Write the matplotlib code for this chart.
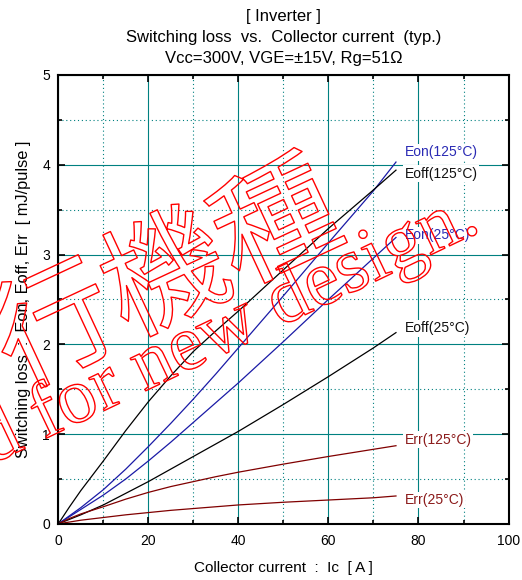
import matplotlib
matplotlib.use("Agg")
import matplotlib.pyplot as plt
from matplotlib.ticker import MultipleLocator
import matplotlib.patheffects as pe

# ---------------- data ----------------
ic = [0, 2.5, 5, 10, 15, 20, 25, 30, 35, 40, 50, 60, 70, 75]
eon_125 = [0, 0.09, 0.18, 0.38, 0.61, 0.86, 1.12, 1.39, 1.67, 1.96, 2.54, 3.13, 3.71, 4.03]
eoff_125 = [0, 0.19, 0.37, 0.70, 1.04, 1.36, 1.65, 1.92, 2.15, 2.37, 2.83, 3.29, 3.72, 3.94]
eon_25 = [0, 0.08, 0.16, 0.32, 0.50, 0.70, 0.91, 1.13, 1.35, 1.57, 2.03, 2.50, 2.96, 3.19]
eoff_25 = [0, 0.05, 0.10, 0.21, 0.34, 0.47, 0.61, 0.75, 0.89, 1.03, 1.33, 1.64, 1.96, 2.13]
err_125 = [0, 0.06, 0.11, 0.19, 0.275, 0.35, 0.415, 0.47, 0.525, 0.575, 0.665, 0.75, 0.83, 0.87]
err_25 = [0, 0.02, 0.04, 0.07, 0.10, 0.125, 0.15, 0.17, 0.19, 0.21, 0.24, 0.265, 0.29, 0.31]

series_names = ["Eon(125°C)", "Eoff(125°C)", "Eon(25°C)", "Eoff(25°C)", "Err(125°C)", "Err(25°C)"]
label_y = [4.14, 3.90, 3.215, 2.18, 0.935, 0.266]
label_x = 76.9

title_lines = ["[ Inverter ]",
               "Switching loss  vs.  Collector current  (typ.)",
               "Vcc=300V, VGE=\u00b115V, Rg=51\u03a9"]
xlabel = "Collector current  :  Ic  [ A ]"
ylabel = "Switching loss  :  Eon, Eoff, Err  [ mJ/pulse ]"
x_ticks = [0, 20, 40, 60, 80, 100]
y_ticks = [0, 1, 2, 3, 4, 5]

wm_jp = "移行機種"
wm_en = "Not recommended for new design."

# ---------------- style ----------------
plt.rcParams['font.family'] = ['Liberation Sans', 'DejaVu Sans']
BLUE = '#1a1aa6'
DRED = '#800000'
TEAL = '#008080'

fig = plt.figure(figsize=(5.22, 5.80), dpi=100)
ax = fig.add_axes([0.1117, 0.0969, 0.8625, 0.7738])

series = [eon_125, eoff_125, eon_25, eoff_25, err_125, err_25]
colors = [BLUE, 'black', BLUE, 'black', DRED, DRED]
lcolors = ['#2a2ab4', '#111111', '#2a2ab4', '#111111', '#8b1a1a', '#8b1a1a']
for vals, c in zip(series, colors):
    ax.plot(ic, vals, color=c, lw=0.9, zorder=3)

for name, ly, lc in zip(series_names, label_y, lcolors):
    ax.text(label_x, ly, name, color=lc, fontsize=10, ha='left', va='center',
            zorder=4, bbox=dict(facecolor='white', edgecolor='none', pad=1.0))

ax.set_xlim(0, 100)
ax.set_ylim(0, 5)
ax.set_xticks(x_ticks)
ax.set_yticks(y_ticks)
ax.xaxis.set_minor_locator(MultipleLocator(10))
ax.yaxis.set_minor_locator(MultipleLocator(0.5))
ax.grid(which='major', color=TEAL, lw=0.8, ls='-', zorder=1)
ax.grid(which='minor', color=TEAL, lw=0.8, ls=(0, (1, 2.5)), zorder=1)
ax.set_axisbelow(True)
ax.tick_params(which='both', direction='in', top=True, right=True, width=1.2, labelsize=10)
ax.tick_params(which='major', length=5)
ax.tick_params(which='minor', length=3)
ax.tick_params(axis='x', pad=7)
ax.tick_params(axis='y', pad=6)
for sp in ax.spines.values():
    sp.set_linewidth(1.5)
    sp.set_zorder(5)

ax.set_xlabel(xlabel, fontsize=11, labelpad=10)
ax.set_ylabel(ylabel, fontsize=11.8, labelpad=8)

cx = 0.1117 + 0.8625 / 2
for i, line in enumerate(title_lines):
    fig.text(cx, 1 - (17 + 20.5 * i) / 580, line, ha='center', va='center', fontsize=12)

# watermark (outlined red text)
stroke = [pe.Stroke(linewidth=1.0, foreground='red')]
fig.text(0.2146, 0.4724, wm_jp, rotation=25, rotation_mode='anchor', ha='center', va='center',
         fontsize=88, family=['Noto Sans CJK JP', 'DejaVu Sans'], color='none',
         path_effects=stroke, zorder=10)
fig.text(0.925, 0.6034, wm_en, rotation=25.5, rotation_mode='anchor', ha='right', va='baseline',
         fontsize=56.5, family=['Liberation Serif', 'DejaVu Serif'], color='none',
         path_effects=stroke, zorder=10)

fig.savefig('out.png', dpi=100)
